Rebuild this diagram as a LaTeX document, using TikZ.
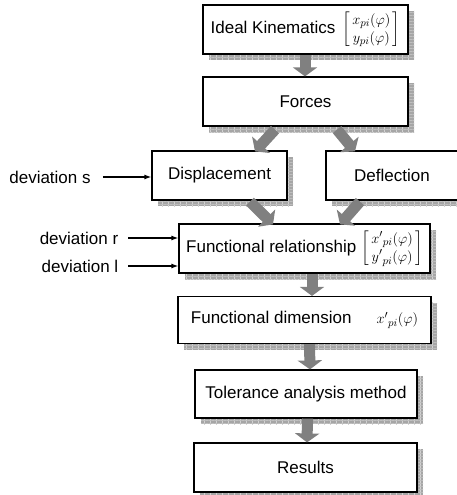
\documentclass[tikz,border=0pt]{standalone}
\usepackage{amsmath}
\usepackage[no-math]{fontspec}
\setmainfont{Liberation Sans}
\usetikzlibrary{arrows.meta,shadows,patterns.meta}
\newcommand{\smallmat}[2]{{\fontsize{15}{18}\selectfont\renewcommand{\arraystretch}{1.0}$\left[\begin{array}{@{\,}c@{\,}}#1\\ #2\end{array}\right]$}}
\begin{document}
\begin{tikzpicture}[x=1pt,y=-1pt,
  font=\fontsize{17}{20}\selectfont,
  box/.style={draw, line width=1.2pt, fill=white, minimum height=49pt, inner sep=0pt, anchor=center,
    general shadow={shadow xshift=6pt, shadow yshift=-6pt, fill=gray!70},
    general shadow={shadow xshift=6pt, shadow yshift=-6pt, pattern={Lines[distance=6pt,angle=90,line width=0.6pt]}, pattern color=gray!35},
    general shadow={shadow xshift=6pt, shadow yshift=-6pt, pattern={Lines[distance=3pt,angle=0,line width=0.4pt]}, pattern color=gray!50}},
  big/.style={draw=gray, line width=11pt, -{Triangle[width=24pt,length=9pt]}},
  thinarrow/.style={draw, line width=1.2pt, -{Latex[length=7pt,width=5pt]}},
  lbl/.style={inner sep=0pt}]
\useasboundingbox (0,0) rectangle (456,495);

\node[box, minimum width=205pt] (ik) at (305.5,29.5)
  {Ideal Kinematics\hspace{7pt}\smallmat{x_{pi}(\varphi)}{y_{pi}(\varphi)}};
\node[box, minimum width=205pt] (forces) at (305.5,101.5) {Forces};
\node[box, minimum width=135pt] (disp) at (219.5,175.5) {Displacement};
\node[box, minimum width=132pt] (defl) at (392,175.5) {Deflection};
\node[box, minimum width=251pt] (fr) at (304.5,248.5)
  {Functional relationship\hspace{5pt}\smallmat{{x'}_{pi}(\varphi)}{{y'}_{pi}(\varphi)}};
\node[box, minimum width=253pt, minimum height=47pt] (fd) at (304.5,320)
  {Functional dimension\hspace{25pt}{\fontsize{15}{16}\selectfont${x'}_{pi}(\varphi)$}};
\node[box, minimum width=222pt, minimum height=48pt] (tam) at (306,394) {Tolerance analysis method};
\node[box, minimum width=223pt] (res) at (305.5,467.5) {Results};

\node[lbl] (ds) at (50,177) {deviation s};
\node[lbl] (dr) at (79,238) {deviation r};
\node[lbl] (dl) at (80,266) {deviation l};

\draw[thinarrow] ([xshift=12pt]ds.east) -- (ds.east -| disp.west);
\draw[thinarrow] ([xshift=10pt]dr.east) -- (dr.east -| fr.west);
\draw[thinarrow] ([xshift=10pt]dl.east) -- (dl.east -| fr.west);

\draw[big] ([xshift=-0.5pt]ik.south) -- ([xshift=-0.5pt]forces.north);
\draw[big] ([xshift=-30.5pt,yshift=-3pt]forces.south) -- ([xshift=35.5pt,yshift=-1pt]disp.north);
\draw[big] ([xshift=31.5pt,yshift=-3pt]forces.south) -- ([xshift=-37pt,yshift=-1pt]defl.north);
\draw[big] ([xshift=30.5pt,yshift=-1pt]disp.south) -- ([xshift=-31.5pt,yshift=-1pt]fr.north);
\draw[big] ([xshift=-32pt,yshift=-1pt]defl.south) -- ([xshift=35.5pt,yshift=-1pt]fr.north);
\draw[big] ([xshift=7.5pt]fr.south) -- ([xshift=7.5pt]fd.north);
\draw[big] ([xshift=5pt]fd.south) -- ([xshift=4pt]tam.north);
\draw[big] ([xshift=1.5pt]tam.south) -- ([xshift=1.5pt]res.north);
\end{tikzpicture}
\end{document}
